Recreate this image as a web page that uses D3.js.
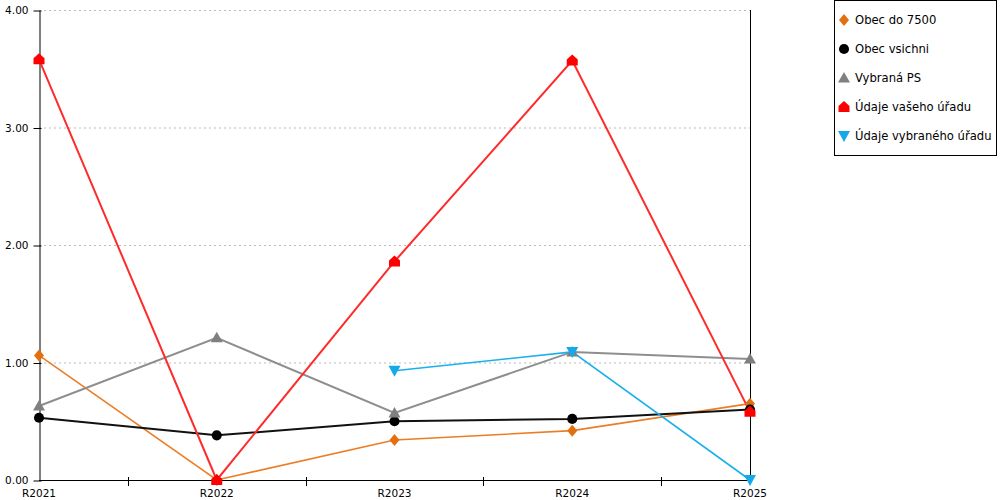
<!DOCTYPE html>
<html>
<head>
<meta charset="utf-8">
<script src="https://cdn.jsdelivr.net/npm/d3@7"></script>
<style>
  html, body { margin: 0; padding: 0; background: #fff; }
  svg { display: block; font-family: 'DejaVu Sans', Verdana, sans-serif; }
</style>
</head>
<body>
<svg id="chart" width="1000" height="500"></svg>
<script>
(function() {
  'use strict';

  // data
  var years = ['R2021', 'R2022', 'R2023', 'R2024', 'R2025'];
  var yTicks = [0, 1, 2, 3, 4];
  var obecDo7500 = [1.06, 0.00, 0.34, 0.42, 0.65];
  var obecVsichni = [0.53, 0.38, 0.50, 0.52, 0.60];
  var vybranaPS = [0.63, 1.21, 0.57, 1.09, 1.03];
  var udajeVaseho = [3.58, 0.00, 1.86, 3.57, 0.58];
  var udajeVybraneho = [null, null, 0.93, 1.09, 0.00];

  var series = [
    { name: 'Obec do 7500', values: obecDo7500, line: '#ec7d24', fill: '#e2700f', width: 1.6, shape: 'diamond' },
    { name: 'Obec vsichni', values: obecVsichni, line: '#111', fill: '#000', width: 2, shape: 'circle' },
    { name: 'Vybraná PS', values: vybranaPS, line: '#8e8e8e', fill: '#808080', width: 2, shape: 'triangle' },
    { name: 'Údaje vašeho úřadu', values: udajeVaseho, line: '#ff2b2b', fill: '#ff0000', width: 2, shape: 'house' },
    { name: 'Údaje vybraného úřadu', values: udajeVybraneho, line: '#1ab0ec', fill: '#14aaea', width: 1.6, shape: 'down' }
  ];

  var svg = d3.select('#chart');

  var x = d3.scalePoint().domain(years).range([39, 750]);
  var y = d3.scaleLinear().domain([0, 4]).range([480, 10]);

  // marker paths
  function markerPath(shape) {
    switch (shape) {
      case 'diamond': return 'M0,-6L5,0L0,6L-5,0Z';
      case 'circle': return d3.symbol(d3.symbolCircle, 80)();
      case 'triangle': return 'M0,-6L6,4.5L-6,4.5Z';
      case 'house': return 'M0,-6L5.5,-1L5.5,5L-5.5,5L-5.5,-1Z';
      case 'down': return 'M-6,-5L6,-5L0,6Z';
    }
  }

  // gridlines
  svg.append('g')
    .selectAll('line')
    .data(yTicks.filter(function(d) { return d > 0; }))
    .join('line')
    .attr('x1', 39).attr('x2', 750)
    .attr('y1', function(d) { return y(d) + 0.5; })
    .attr('y2', function(d) { return y(d) + 0.5; })
    .attr('stroke', '#bbb')
    .attr('stroke-dasharray', '2,3');

  // right border
  svg.append('line')
    .attr('x1', 750.5).attr('x2', 750.5)
    .attr('y1', y(4)).attr('y2', y(0))
    .attr('stroke', '#000');

  // y axis
  var yAxis = svg.append('g')
    .attr('transform', 'translate(39.5,0.5)')
    .call(d3.axisLeft(y).tickValues(yTicks).tickFormat(d3.format('.2f')).tickSize(6).tickSizeOuter(0));
  yAxis.select('.domain').attr('stroke', '#000');
  yAxis.selectAll('.tick line').attr('x2', 2).attr('x1', -6);
  yAxis.selectAll('text')
    .attr('x', -11)
    .style('font-family', "'DejaVu Sans', Verdana, sans-serif")
    .style('font-size', '10.5px')
    .attr('fill', '#000');

  // x axis baseline
  svg.append('line')
    .attr('x1', 39).attr('x2', 750)
    .attr('y1', y(0) + 0.5).attr('y2', y(0) + 0.5)
    .attr('stroke', '#000');

  // minor ticks between categories
  var step = x.step();
  svg.append('g')
    .selectAll('line')
    .data(years.slice(0, -1))
    .join('line')
    .attr('x1', function(d) { return Math.round(x(d) + step / 2) + 0.5; })
    .attr('x2', function(d) { return Math.round(x(d) + step / 2) + 0.5; })
    .attr('y1', y(0) - 3).attr('y2', y(0) + 6)
    .attr('stroke', '#000');

  // category labels
  svg.append('g')
    .selectAll('text')
    .data(years)
    .join('text')
    .attr('x', function(d) { return x(d); })
    .attr('y', 497)
    .attr('text-anchor', 'middle')
    .style('font-size', '10.5px')
    .text(function(d) { return d; });

  // lines
  var line = d3.line()
    .defined(function(d) { return d != null; })
    .x(function(d, i) { return x(years[i]); })
    .y(function(d) { return y(d); });

  series.forEach(function(s) {
    svg.append('path')
      .datum(s.values)
      .attr('fill', 'none')
      .attr('stroke', s.line)
      .attr('stroke-width', s.width)
      .attr('d', line);
  });

  // markers
  series.forEach(function(s) {
    svg.append('g')
      .selectAll('path')
      .data(s.values.map(function(v, i) { return { v: v, c: years[i] }; })
        .filter(function(d) { return d.v != null; }))
      .join('path')
      .attr('transform', function(d) { return 'translate(' + x(d.c) + ',' + y(d.v) + ')'; })
      .attr('d', markerPath(s.shape))
      .attr('fill', s.fill);
  });

  // legend
  var legend = svg.append('g');
  legend.append('rect')
    .attr('x', 834.5).attr('y', 0.5)
    .attr('width', 162).attr('height', 155)
    .attr('fill', '#fff')
    .attr('stroke', '#000');

  var items = legend.selectAll('g.item')
    .data(series)
    .join('g')
    .attr('class', 'item')
    .attr('transform', function(d, i) { return 'translate(844,' + (20 + i * 29) + ')'; });

  items.append('path')
    .attr('d', function(d) { return markerPath(d.shape); })
    .attr('fill', function(d) { return d.fill; });

  items.append('text')
    .attr('x', 11)
    .attr('y', 4)
    .style('font-size', '11.6px')
    .text(function(d) { return d.name; });
})();
</script>
</body>
</html>
